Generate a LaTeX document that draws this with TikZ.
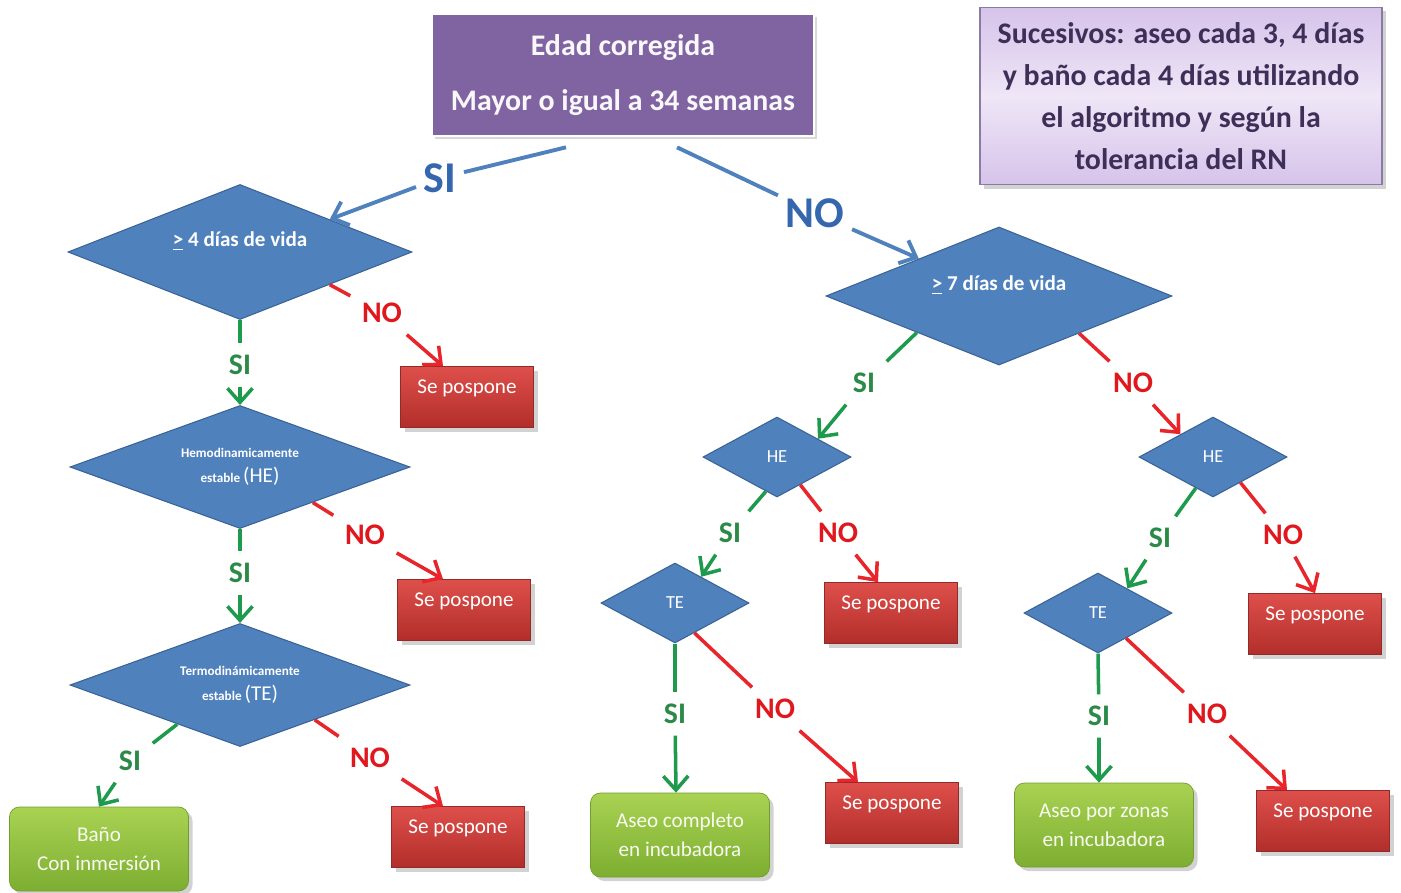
\documentclass[tikz,border=0pt]{standalone}
\usepackage{fontspec}
\setmainfont{Carlito}
\usetikzlibrary{arrows.meta,positioning,shapes.geometric,shadows}

\definecolor{decfill}{HTML}{4F81BD}
\definecolor{decedge}{HTML}{3A6395}
\definecolor{agefill}{HTML}{8064A2}
\definecolor{notetop}{HTML}{D6C3EA}
\definecolor{notemid}{HTML}{EFE6F7}
\definecolor{noteedge}{HTML}{8A7BA3}
\definecolor{notetext}{HTML}{3D2F57}
\definecolor{postop}{HTML}{DE4F4B}
\definecolor{posbot}{HTML}{B22E2A}
\definecolor{posedge}{HTML}{8F2B28}
\definecolor{bathtop}{HTML}{A9D252}
\definecolor{bathbot}{HTML}{7DAE31}
\definecolor{bathedge}{HTML}{729E2E}
\definecolor{sigreen}{HTML}{1E9A4C}
\definecolor{silabel}{HTML}{2C8A48}
\definecolor{nored}{HTML}{E8252A}
\definecolor{nolabel}{HTML}{E0181E}
\definecolor{topblue}{HTML}{4F81BD}
\definecolor{toplabel}{HTML}{3567AE}

\begin{document}
\begin{tikzpicture}[x=0.2mm, y=-0.2mm,
  decision/.style={diamond, inner sep=0pt, draw=decedge, line width=0.6pt,
    fill=decfill, text=white, align=center},
  bigdec/.style={decision, aspect=2.5, font=\fontsize{12}{14}\selectfont\bfseries,
    text height=7pt, text depth=13pt},
  stabledec/.style={decision, aspect=2.5, minimum width=68mm, minimum height=24.6mm,
    font=\fontsize{7.5}{14}\selectfont\bfseries},
  smalldec/.style={decision, aspect=1.85, minimum width=29.6mm, minimum height=16mm,
    font=\fontsize{10.5}{12}\selectfont},
  agebox/.style={draw=white, line width=1.5pt, fill=agefill, text=white!95!agefill,
    align=center, minimum width=76.4mm, minimum height=24.4mm,
    font=\fontsize{17}{31}\selectfont\bfseries,
    drop shadow={shadow xshift=0.6mm, shadow yshift=-0.6mm, opacity=0.3}},
  notebox/.style={draw=noteedge, line width=0.8pt, top color=notetop, bottom color=notetop,
    middle color=notemid, text=notetext, align=center, minimum width=80.4mm,
    minimum height=35.4mm, font=\fontsize{17}{23.8}\selectfont\bfseries,
    drop shadow={shadow xshift=0.8mm, shadow yshift=-0.8mm, opacity=0.35}},
  pospone/.style={draw=posedge, top color=postop, bottom color=posbot, text=white,
    minimum width=26.6mm, minimum height=12.2mm, font=\fontsize{12}{14}\selectfont,
    text height=8pt, text depth=12.5pt,
    drop shadow={shadow xshift=0.8mm, shadow yshift=-0.8mm, opacity=0.35}},
  bath/.style={rounded corners=2mm, draw=bathedge, top color=bathtop, bottom color=bathbot,
    text=white!92!bathtop, minimum width=35.8mm, minimum height=16.8mm, align=center,
    font=\fontsize{12}{16.5}\selectfont,
    drop shadow={shadow xshift=0.8mm, shadow yshift=-0.8mm, opacity=0.35}},
  silab/.style={font=\fontsize{17}{17}\selectfont\bfseries, text=silabel,
    inner sep=1pt, outer sep=2mm},
  nolab/.style={silab, text=nolabel},
  biglab/.style={silab, font=\fontsize{25}{25}\selectfont\bfseries, text=toplabel,
    outer sep=1.2mm},
  siline/.style={draw=sigreen, line width=2pt},
  noline/.style={siline, draw=nored},
  topline/.style={siline, draw=topblue, line width=2.2pt},
  siarrow/.style={siline, -{Straight Barb[length=2.8mm, width=5mm]}},
  noarrow/.style={siarrow, draw=nored},
  toparrow/.style={siarrow, topline}
]
\fill[white] (0,0) rectangle (1401,893);
\useasboundingbox (0,0) rectangle (1401,893);

% head and note
\node[agebox] (age) at (623,75) {Edad corregida\\Mayor o igual a 34 semanas};
\node[notebox] (note) at (1181,96)
  {Sucesivos: aseo cada 3, 4 días\\y baño cada 4 días utilizando\\el algoritmo y según la\\tolerancia del RN};

% decisions
\node[bigdec, minimum width=68.8mm, minimum height=27mm] (vida4) at (240,252) {\underline{>} 4 días de vida};
\node[stabledec] (heleft) at (240,467) {Hemodinamicamente\\estable {\fontsize{12}{14}\selectfont\mdseries (HE)}};
\node[stabledec] (teleft) at (240,685) {Termodinámicamente\\estable {\fontsize{12}{14}\selectfont\mdseries (TE)}};
\node[bigdec, minimum width=69.2mm, minimum height=27.6mm] (vida7) at (999,296) {\underline{>} 7 días de vida};
\node[smalldec] (hemid) at (777,457) {HE};
\node[smalldec] (heright) at (1213,457) {HE};
\node[smalldec] (temid) at (675,603) {TE};
\node[smalldec] (teright) at (1098,613) {TE};

% outcomes
\node[pospone] (pos1) at (467,397) {Se pospone};
\node[pospone] (pos2) at (464,610) {Se pospone};
\node[pospone] (pos3) at (458,837) {Se pospone};
\node[pospone] (pos4) at (891,613) {Se pospone};
\node[pospone] (pos5) at (892,813) {Se pospone};
\node[pospone] (pos6) at (1315,624) {Se pospone};
\node[pospone] (pos7) at (1323,821) {Se pospone};
\node[bath] (bano) at (99,849) {Baño\\Con inmersión};
\node[bath] (aseocomp) at (680,835) {Aseo completo\\en incubadora};
\node[bath] (aseozonas) at (1104,825) {Aseo por zonas\\en incubadora};

% labels
\node[biglab] (sitop) at (440,178) {SI};
\node[biglab] (notop) at (815,213) {NO};
\node[silab] (si1) at (240,365) {SI};
\node[nolab] (no1) at (382,313) {NO};
\node[silab] (si2) at (240,573) {SI};
\node[nolab] (no2) at (365,535) {NO};
\node[silab] (si3) at (130,761) {SI};
\node[nolab] (no3) at (370,758) {NO};
\node[silab] (si4) at (864,383) {SI};
\node[nolab] (no4) at (1133,383) {NO};
\node[silab] (si5) at (730,533) {SI};
\node[nolab] (no5) at (838,533) {NO};
\node[silab] (si6) at (1160,538) {SI};
\node[nolab] (no6) at (1283,535) {NO};
\node[silab] (si7) at (675,714) {SI};
\node[nolab] (no7) at (775,709) {NO};
\node[silab] (si8) at (1099,716) {SI};
\node[nolab] (no8) at (1207,714) {NO};

% connectors
\draw[topline] ([xshift=-11.4mm, yshift=-2mm]age.south) -- (sitop);
\draw[toparrow] (sitop) -- (vida4.20);
\draw[topline] ([xshift=10.8mm, yshift=-2mm]age.south) -- (notop);
\draw[toparrow] (notop) -- (vida7.155);

\draw[siline] (vida4.south) -- (si1);
\draw[siarrow] (si1) -- (heleft.north);
\draw[noline] (vida4.-20) -- (no1);
\draw[noarrow] (no1) -- ([xshift=-4.8mm]pos1.north);

\draw[siline] (heleft.south) -- (si2);
\draw[siarrow] (si2) -- (teleft.north);
\draw[noline] (heleft.-26) -- (no2);
\draw[noarrow] (no2) -- ([xshift=-4.2mm]pos2.north);

\draw[siline] (teleft.-148) -- (si3);
\draw[siarrow] (si3) -- (bano.north);
\draw[noline] (teleft.-25) -- (no3);
\draw[noarrow] (no3) -- ([xshift=-3mm]pos3.north);

\draw[siline] (vida7.-156) -- (si4);
\draw[siarrow] (si4) -- (hemid.24);
\draw[noline] (vida7.-25) -- (no4);
\draw[noarrow] (no4) -- (heright.145);

\draw[siline] (hemid.-108) -- (si5);
\draw[siarrow] (si5) -- (temid.45);
\draw[noline] (hemid.-50) -- (no5);
\draw[noarrow] (no5) -- ([xshift=-2.6mm]pos4.north);

\draw[siline] (heright.-119) -- (si6);
\draw[siarrow] (si6) -- (teright.40);
\draw[noline] (heright.-43) -- (no6);
\draw[noarrow] (no6) -- (pos6.north);

\draw[siline] (temid.south) -- (si7);
\draw[siarrow] (si7) -- ([xshift=-0.8mm]aseocomp.north);
\draw[noline] (temid.-57) -- (no7);
\draw[noarrow] (no7) -- ([xshift=-6.8mm]pos5.north);

\draw[siline] (teright.south) -- (si8);
\draw[siarrow] (si8) -- ([xshift=-1mm]aseozonas.north);
\draw[noline] (teright.-42) -- (no8);
\draw[noarrow] (no8) -- ([xshift=-7.2mm]pos7.north);
\end{tikzpicture}
\end{document}
